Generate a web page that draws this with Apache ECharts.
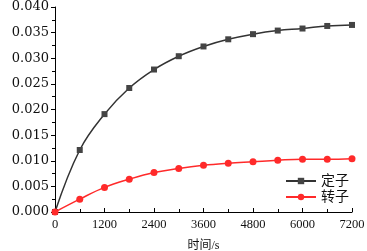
<!DOCTYPE html>
<html>
<head>
<meta charset="utf-8">
<script src="https://cdn.jsdelivr.net/npm/echarts@6/dist/echarts.min.js"></script>
<style>
  html, body { margin: 0; padding: 0; background: #fff; }
  #chart { width: 367px; height: 251px; }
</style>
</head>
<body>
<div id="chart"></div>
<script>
// 时间 (s)
var times = [0, 600, 1200, 1800, 2400, 3000, 3600, 4200, 4800, 5400, 6000, 6600, 7200]
// 定子 形变量 (mm)
var stator = [0, 0.0121, 0.0191, 0.0242, 0.0278, 0.0304, 0.0323, 0.0337, 0.0347, 0.0354, 0.0358, 0.0363, 0.0365]
// 转子 形变量 (mm)
var rotor = [0, 0.0025, 0.0048, 0.0064, 0.0077, 0.0085, 0.0091, 0.0095, 0.0098, 0.0101, 0.0103, 0.0103, 0.0104]

var names = ['定子', '转子']
var serif = '"Liberation Serif", "Noto Sans CJK SC", serif'

function pairs(ys) {
  return times.map(function (t, i) { return [t, ys[i]] })
}

var chart = echarts.init(document.getElementById('chart'))

var option = {
  animation: false,
  grid: { left: 55, right: 15, top: 7, bottom: 39, outerBoundsMode: 'none', containLabel: false },
  legend: {
    orient: 'vertical',
    left: 280,
    top: 169,
    itemWidth: 30,
    itemHeight: 8,
    itemGap: 2,
    textStyle: { fontFamily: serif, fontSize: 14, color: '#111' },
    data: names
  },
  xAxis: {
    type: 'value',
    min: 0,
    max: 7200,
    interval: 1200,
    name: '时间/s',
    nameLocation: 'middle',
    nameGap: 28,
    nameTextStyle: { fontFamily: serif, fontSize: 12, color: '#111' },
    axisLine: { lineStyle: { color: '#000', width: 1 } },
    axisTick: { inside: true, length: 4, lineStyle: { color: '#000' } },
    minorTick: { show: true, splitNumber: 2, length: 3, lineStyle: { color: '#000' } },
    axisLabel: {
      fontFamily: serif,
      fontSize: 12.5,
      color: '#111',
      margin: 6,
      formatter: function (v) { return String(v) }
    },
    splitLine: { show: false }
  },
  yAxis: {
    type: 'value',
    min: 0,
    max: 0.04,
    interval: 0.005,
    name: '形变量/mm',
    nameLocation: 'middle',
    nameGap: 43,
    nameTextStyle: { fontFamily: serif, fontSize: 12, color: '#111' },
    axisLine: { show: true, lineStyle: { color: '#000', width: 1 } },
    axisTick: { show: true, length: 4, lineStyle: { color: '#000' } },
    minorTick: { show: true, splitNumber: 2, length: 3, lineStyle: { color: '#000' } },
    axisLabel: {
      fontFamily: '"DejaVu Serif", serif',
      fontSize: 13,
      color: '#111',
      margin: 6,
      formatter: function (v) { return v.toFixed(3) }
    },
    splitLine: { show: false }
  },
  series: [
    {
      name: names[0],
      type: 'line',
      smooth: 0.4,
      symbol: 'rect',
      symbolSize: 6,
      showAllSymbol: true,
      lineStyle: { color: '#333', width: 1.5 },
      itemStyle: { color: '#444' },
      data: pairs(stator)
    },
    {
      name: names[1],
      type: 'line',
      smooth: 0.4,
      symbol: 'circle',
      symbolSize: 7,
      showAllSymbol: true,
      lineStyle: { color: '#ff2a2a', width: 1.5 },
      itemStyle: { color: '#ff2a2a' },
      data: pairs(rotor)
    }
  ]
}

chart.setOption(option)
</script>
</body>
</html>
